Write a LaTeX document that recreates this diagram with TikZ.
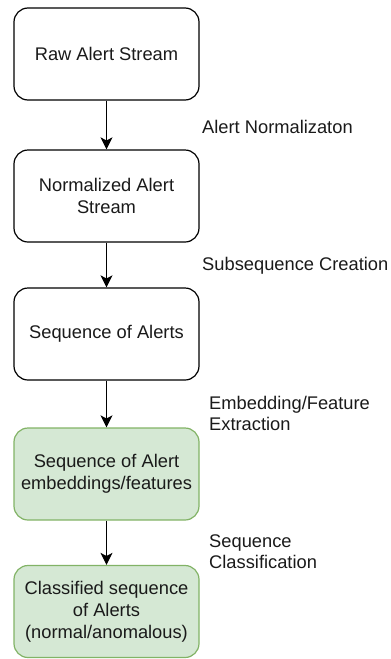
\documentclass[tikz,border=0pt]{standalone}
\usepackage{fontspec}
\setmainfont{Liberation Sans}
\usetikzlibrary{arrows.meta}
\definecolor{gfill}{HTML}{D5E8D4}
\definecolor{gdraw}{HTML}{82B366}
\definecolor{txt}{HTML}{1A1A1A}
\begin{document}
\begin{tikzpicture}[x=1pt,y=-1pt,
  box/.style={draw=black,line width=1.2pt,rounded corners=14pt,minimum width=185pt,minimum height=92pt,align=center,font=\fontsize{18.3}{22}\selectfont,text=txt,fill=white},
  gbox/.style={box,draw=gdraw,fill=gfill},
  lbl/.style={anchor=west,align=left,font=\fontsize{18.3}{21}\selectfont,text=txt,inner sep=0pt},
  arr/.style={-{Stealth[length=12pt,width=12pt,inset=3pt]},line width=1.2pt}]
\useasboundingbox (0,0) rectangle (391,659);
\node[box] (b1) at (106.5,54) {Raw Alert Stream};
\node[box] (b2) at (106.5,196) {Normalized Alert\\Stream};
\node[box] (b3) at (106.5,334) {Sequence of Alerts};
\node[gbox] (b4) at (106.5,474) {Sequence of Alert\\embeddings/features};
\node[gbox] (b5) at (106.5,611.5) {Classified sequence\\of Alerts\\(normal/anomalous)};
\draw[arr] (b1) -- (b2);
\draw[arr] (b2) -- (b3);
\draw[arr] (b3) -- (b4);
\draw[arr] (b4) -- (b5);
\node[lbl] (l1) at (202,127) {Alert Normalizaton};
\node[lbl] (l2) at (202,266) {Subsequence Creation};
\node[lbl] (l3) at (209,413) {Embedding/Feature\\Extraction};
\node[lbl] (l4) at (209,552) {Sequence\\Classification};
\end{tikzpicture}
\end{document}
